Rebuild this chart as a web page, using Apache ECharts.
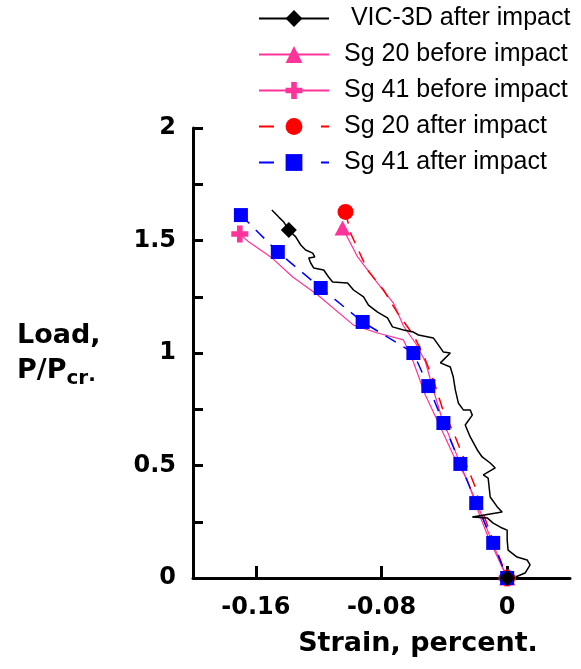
<!DOCTYPE html>
<html><head><meta charset="utf-8">
<script src="https://cdn.jsdelivr.net/npm/echarts@6/dist/echarts.min.js"></script>
<style>html,body{margin:0;padding:0;background:#fff}#c{width:581px;height:669px}</style>
</head><body><div id="c"></div>
<script>
// ---- data ----
const legendNames = ['VIC-3D after impact', 'Sg 20 before impact', 'Sg 41 before impact', 'Sg 20 after impact', 'Sg 41 after impact'];
const xTicks = [-0.16, -0.08, 0];
const yTicks = [0, 0.5, 1, 1.5, 2];

const vicStrain = [-0.1498,-0.1454,-0.1422,-0.1390,-0.1346,-0.1314,-0.1283,-0.1238,-0.1225,-0.1263,-0.1251,-0.1232,-0.1168,-0.1137,-0.1111,-0.1016,-0.0978,-0.0914,-0.0883,-0.0825,-0.0762,-0.0730,-0.0660,-0.0597,-0.0565,-0.0470,-0.0438,-0.0406,-0.0362,-0.0425,-0.0362,-0.0343,-0.0330,-0.0311,-0.0279,-0.0235,-0.0222,-0.0267,-0.0235,-0.0190,-0.0159,-0.0108,-0.0076,-0.0152,-0.0121,-0.0108,-0.0063,-0.0032,-0.0222,-0.0127,-0.0089,-0.0032,0.0000,0.0000,0.0006,0.0063,0.0127,0.0146,0.0114,0.0038,0.0000];
const vicLoad = [1.636,1.604,1.582,1.547,1.516,1.480,1.458,1.444,1.427,1.422,1.400,1.378,1.369,1.338,1.316,1.311,1.280,1.249,1.213,1.182,1.156,1.116,1.102,1.093,1.080,1.067,1.036,1.004,1.000,0.956,0.938,0.893,0.836,0.778,0.747,0.747,0.724,0.680,0.627,0.569,0.538,0.511,0.489,0.458,0.444,0.360,0.316,0.293,0.271,0.267,0.244,0.222,0.213,0.169,0.124,0.093,0.080,0.058,0.022,0.000,0.000];
const vicMarks = [3, 60];

const sg20BeforeStrain = [-0.1048,-0.0952,-0.0825,-0.0724,-0.0660,-0.0580,-0.0520,-0.0480,-0.0420,-0.0340,-0.0260,-0.0180,-0.0090,0];
const sg20BeforeLoad = [1.556,1.427,1.311,1.222,1.120,1.040,0.960,0.860,0.720,0.580,0.440,0.310,0.150,0];
const sg20BeforeMarks = [0, 13];

const sg41BeforeStrain = [-0.1702,-0.1644,-0.1505,-0.1365,-0.1206,-0.0978,-0.0825,-0.0660,-0.0597,-0.0521,-0.0425,-0.0343,-0.0254,-0.0171,-0.0121,0];
const sg41BeforeLoad = [1.529,1.493,1.427,1.338,1.258,1.124,1.089,1.058,0.960,0.813,0.671,0.547,0.436,0.271,0.182,0];
const sg41BeforeMarks = [0, 15];

const sg20AfterStrain = [-0.1029,-0.0997,-0.0889,-0.0787,-0.0698,-0.0597,-0.0533,-0.0470,-0.0413,-0.0330,-0.0203,-0.0171,-0.0140,-0.0070,0];
const sg20AfterLoad = [1.627,1.533,1.369,1.280,1.178,1.080,0.991,0.880,0.756,0.627,0.404,0.316,0.262,0.130,0];
const sg20AfterMarks = [0, 14];

const sg41AfterStrain = [-0.1695,-0.1460,-0.1187,-0.0920,-0.0597,-0.0502,-0.0406,-0.0298,-0.0197,-0.0089,0];
const sg41AfterLoad = [1.613,1.449,1.289,1.138,1.000,0.853,0.689,0.507,0.333,0.156,0];
const sg41AfterMarks = [0,1,2,3,4,5,6,7,8,9,10];

// ---- build ----
function build(xs, ys, marks) {
  return xs.map((x, i) => marks.indexOf(i) >= 0 ? [x, ys[i]] : { value: [x, ys[i]], symbol: 'none' });
}
const PINK = '#FF3399', RED = '#FF0000', BLUE = '#0000FF', BLACK = '#000000';
const plusPath = 'path://M3,0H6V3H9V6H6V9H3V6H0V3H3Z';

const chart = echarts.init(document.getElementById('c'), null, { renderer: 'canvas' });
const axisFont = 'DejaVu Sans';
chart.setOption({
  animation: false,
  backgroundColor: '#ffffff',
  grid: { left: 193, right: 11, top: 128, bottom: 91, containLabel: false, outerBoundsMode: 'none' },
  legend: {
    orient: 'vertical', left: 253, top: 1,
    itemWidth: 70, itemHeight: 21, itemGap: 11,
    textStyle: { fontFamily: 'Liberation Sans', fontSize: 25, color: '#000', padding: [0, 0, 0, 10], lineHeight: 25 },
    formatter: n => n === legendNames[0] ? ' ' + n : n,
    data: [
      { name: legendNames[0] },
      { name: legendNames[1] },
      { name: legendNames[2] },
      { name: legendNames[3], lineStyle: { type: [15, 47] } },
      { name: legendNames[4], lineStyle: { type: [15, 47] } }
    ]
  },
  xAxis: {
    type: 'value', min: -0.2, max: 0.04,
    name: 'Strain, percent.', nameLocation: 'middle', nameGap: 52,
    nameTextStyle: { fontFamily: axisFont, fontWeight: 'bold', fontSize: 27, color: '#000', padding: [0, 0, 0, 73] },
    axisLine: { show: true, onZero: false, lineStyle: { color: '#000', width: 3 } },
    axisTick: { show: true, inside: true, length: 12, customValues: xTicks, lineStyle: { color: '#000', width: 3 } },
    axisLabel: { show: true, customValues: xTicks, margin: 18, fontFamily: axisFont, fontWeight: 'bold', fontSize: 24, color: '#000',
      formatter: v => String(v) },
    splitLine: { show: false }
  },
  yAxis: {
    type: 'value', min: 0, max: 2, interval: 0.5,
    name: '{a|Load,}\n{a|P/P}{s|cr}{d|.}', nameLocation: 'middle', nameRotate: 0, nameGap: 176,
    nameTextStyle: { align: 'left', verticalAlign: 'middle',
      rich: {
        a: { fontFamily: axisFont, fontWeight: 'bold', fontSize: 27, color: '#000', lineHeight: 35 },
        s: { fontFamily: axisFont, fontWeight: 'bold', fontSize: 20, color: '#000', lineHeight: 35, padding: [16, 0, 0, 0] },
        d: { fontFamily: axisFont, fontWeight: 'bold', fontSize: 20, color: '#000', lineHeight: 35, padding: [10, 0, 0, 0] }
      } },
    axisLine: { show: true, onZero: false, lineStyle: { color: '#000', width: 3 } },
    axisTick: { show: true, inside: true, length: 10, lineStyle: { color: '#000', width: 3 } },
    minorTick: { show: true, splitNumber: 2, length: 10, lineStyle: { color: '#000', width: 3 } },
    axisLabel: { show: true, margin: 17, fontFamily: axisFont, fontWeight: 'bold', fontSize: 24, color: '#000',
      customValues: yTicks, formatter: v => String(v) },
    splitLine: { show: false }
  },
  series: [
    { name: legendNames[1], type: 'line', data: build(sg20BeforeStrain, sg20BeforeLoad, sg20BeforeMarks),
      symbol: 'triangle', symbolSize: [16, 15], itemStyle: { color: PINK }, lineStyle: { color: PINK, width: 1.2, type: 'solid' } },
    { name: legendNames[2], type: 'line', data: build(sg41BeforeStrain, sg41BeforeLoad, sg41BeforeMarks),
      symbol: plusPath, symbolSize: 17, itemStyle: { color: PINK }, lineStyle: { color: PINK, width: 1.2, type: 'solid' } },
    { name: legendNames[3], type: 'line', data: build(sg20AfterStrain, sg20AfterLoad, sg20AfterMarks),
      symbol: 'circle', symbolSize: 16, itemStyle: { color: RED }, lineStyle: { color: RED, width: 1.5, type: [12, 9] } },
    { name: legendNames[4], type: 'line', data: build(sg41AfterStrain, sg41AfterLoad, sg41AfterMarks),
      symbol: 'rect', symbolSize: 14, itemStyle: { color: BLUE }, lineStyle: { color: BLUE, width: 1.5, type: [12, 9] } },
    { name: legendNames[0], type: 'line', data: build(vicStrain, vicLoad, vicMarks),
      symbol: 'diamond', symbolSize: 16, itemStyle: { color: BLACK }, lineStyle: { color: BLACK, width: 1.5 } }
  ]
});
</script></body></html>
